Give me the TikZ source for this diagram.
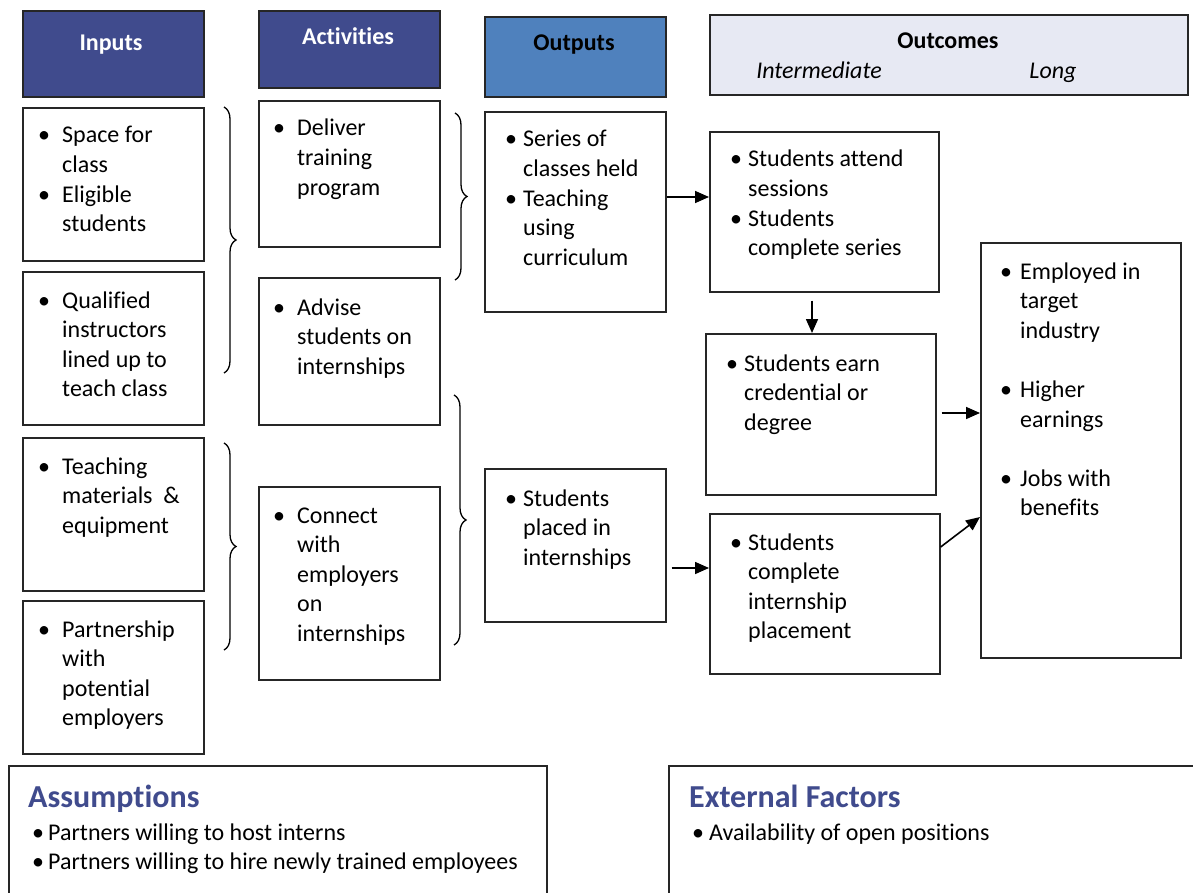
\documentclass[tikz,border=0pt]{standalone}
\usepackage{fontspec}
\setmainfont{Carlito}[Ligatures={CommonOff,ContextualOff},RawFeature={-liga;-clig;-dlig}]
\usetikzlibrary{arrows.meta,decorations.pathreplacing,calc}
\definecolor{hdr}{RGB}{64,75,141}
\definecolor{outc}{RGB}{79,129,189}
\definecolor{lav}{RGB}{231,233,243}
\newcommand\blst[2]{\begin{tabular}[t]{@{}p{#1pt}@{}l@{}}#2\end{tabular}}
\tikzset{
 box/.style={draw=black!85, line width=1.6pt, anchor=north west, inner sep=0pt, fill=white},
 hbox/.style={box, fill=hdr},
 txt/.style={anchor=base west, inner sep=0pt, font=\fontsize{24}{29.6}\selectfont},
 htxt/.style={anchor=base, inner sep=0pt, font=\fontsize{24}{29.6}\selectfont\bfseries},
 ttl/.style={anchor=base west, inner sep=0pt, text=hdr, font=\fontsize{32}{38}\selectfont\bfseries},
 arr/.style={line width=1.6pt, -{Triangle[length=14pt,width=12pt]}},
 brc/.style={decorate, decoration={brace, amplitude=12pt}, line width=1.3pt},
}
\begin{document}
\begin{tikzpicture}[x=1pt,y=-1pt]
\useasboundingbox (0,0) rectangle (1193,893);
\clip (0,0) rectangle (1193,893);
% headers
\node[hbox, minimum width=181, minimum height=86] (hin) at (22,10) {};
\node[htxt, text=white] (tin) at (111,51) {Inputs};
\node[hbox, minimum width=181, minimum height=77] (hac) at (258,10) {};
\node[htxt, text=white] (tac) at (348,45) {Activities};
\node[box, fill=outc, minimum width=181, minimum height=80] (hou) at (484,16) {};
\node[htxt] (tou) at (574,51) {Outputs};
\node[box, fill=lav, minimum width=478, minimum height=80] (hoc) at (709,14) {};
\node[htxt] (toc) at (948,49) {Outcomes};
\node[htxt, font=\fontsize{24}{29.6}\selectfont\itshape] (tim) at (819,79) {Intermediate};
\node[htxt, font=\fontsize{24}{29.6}\selectfont\itshape] (tlo) at (1053,79) {Long};
% boxes
\node[box, minimum width=181, minimum height=153] (i1) at (22,107) {};
\node[box, minimum width=181, minimum height=153] (i2) at (22,271) {};
\node[box, minimum width=181, minimum height=153] (i3) at (22,437) {};
\node[box, minimum width=181, minimum height=153] (i4) at (22,600) {};
\node[box, minimum width=181, minimum height=146] (a1) at (258,100) {};
\node[box, minimum width=181, minimum height=147] (a2) at (258,277) {};
\node[box, minimum width=181, minimum height=193] (a3) at (258,486) {};
\node[box, minimum width=181, minimum height=200] (o1) at (484,111) {};
\node[box, minimum width=181, minimum height=153] (o2) at (484,468) {};
\node[box, minimum width=229, minimum height=160] (m1) at (709,131) {};
\node[box, minimum width=230, minimum height=161] (m2) at (705,333) {};
\node[box, minimum width=230, minimum height=160] (m3) at (709,513) {};
\node[box, minimum width=200, minimum height=415] (lo) at (980,242) {};
\node[box, minimum width=538, minimum height=200] (as) at (8,765) {};
\node[box, minimum width=600, minimum height=200] (ex) at (668,765) {};
% texts
\node[txt] (i1t) at (38,143) {\blst{24}{\textbullet & Space for\\ & class\\ \textbullet & Eligible\\ & students}};
\node[txt] (i2t) at (38,308) {\blst{24}{\textbullet & Qualified\\ & instructors\\ & lined up to\\ & teach class}};
\node[txt] (i3t) at (38,474) {\blst{24}{\textbullet & Teaching\\ & materials\ \ \&\\ & equipment}};
\node[txt] (i4t) at (38,637) {\blst{24}{\textbullet & Partnership\\ & with\\ & potential\\ & employers}};
\node[txt] (a1t) at (273,136) {\blst{24}{\textbullet & Deliver\\ & training\\ & program}};
\node[txt] (a2t) at (273,315) {\blst{24}{\textbullet & Advise\\ & students on\\ & internships}};
\node[txt] (a3t) at (273,523) {\blst{24}{\textbullet & Connect\\ & with\\ & employers\\ & on\\ & internships}};
\node[txt] (o1t) at (505,147) {\blst{18}{\textbullet & Series of\\ & classes held\\ \textbullet & Teaching\\ & using\\ & curriculum}};
\node[txt] (o2t) at (505,506) {\blst{18}{\textbullet & Students\\ & placed in\\ & internships}};
\node[txt] (m1t) at (730,167) {\blst{18}{\textbullet & Students attend\\ & sessions\\ \textbullet & Students\\ & complete series}};
\node[txt] (m2t) at (726,371) {\blst{18}{\textbullet & Students earn\\ & credential or\\ & degree}};
\node[txt] (m3t) at (730,550) {\blst{18}{\textbullet & Students\\ & complete\\ & internship\\ & placement}};
\node[txt] (lt) at (1000,279) {\blst{20}{\textbullet & Employed in\\ & target\\ & industry\\ & \\ \textbullet & Higher\\ & earnings\\ & \\ \textbullet & Jobs with\\ & benefits}};
\node[ttl] (ast) at (28,807) {Assumptions};
\node[txt] (asl) at (32,840) {\blst{16}{\textbullet & Partners willing to host interns\\ \textbullet & Partners willing to hire newly trained employees}};
\node[ttl] (ext) at (689,807) {External Factors};
\node[txt] (exl) at (692,840) {\blst{17}{\textbullet & Availability of open positions}};
% braces
\draw[brc] (224,107) -- (224,373);
\draw[brc] (224,443) -- (224,650);
\draw[brc] (455,113) -- (455,280);
\draw[brc] (454,395) -- (454,645);
% arrows
\draw[arr] (o1.east |- 0,197) -- (m1.west |- 0,197);
\draw[arr] ($(m1.south -| 812,0)+(0,8)$) -- (m2.north -| 812,0);
\draw[arr] ($(o2.east |- 0,568)+(5,0)$) -- (m3.west |- 0,568);
\draw[arr] ($(m2.east |- 0,413)+(5,0)$) -- (lo.west |- 0,413);
\draw[arr] (m3.east |- 0,547) -- (lo.west |- 0,517);
\end{tikzpicture}
\end{document}
